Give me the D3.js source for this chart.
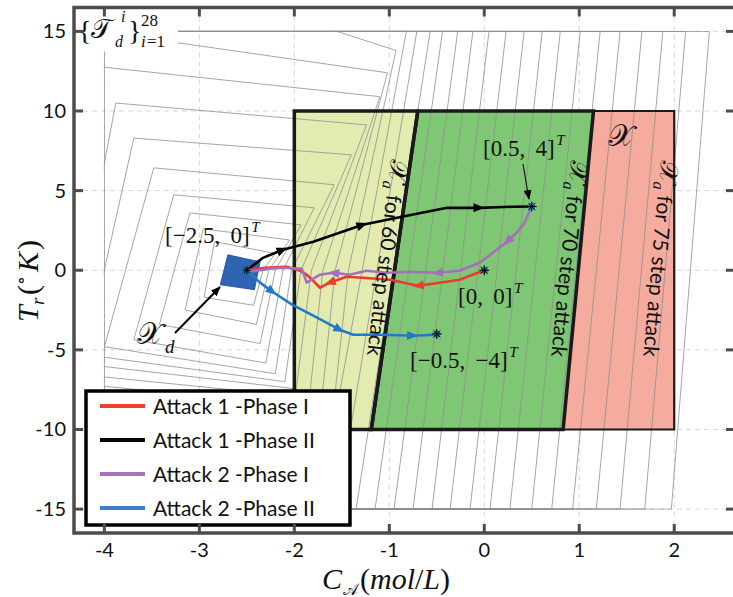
<!DOCTYPE html>
<html><head><meta charset="utf-8">
<script src="https://cdn.jsdelivr.net/npm/d3@7"></script>
<style>body{margin:0;background:#fff} svg{display:block}</style>
</head><body>
<svg id="chart" width="733" height="597"></svg>
<script>
// ---------------- data ----------------
const xTicks = [-4, -3, -2, -1, 0, 1, 2];
const yTicks = [-15, -10, -5, 0, 5, 10, 15];
const xTickLabels = ["-4", "-3", "-2", "-1", "0", "1", "2"];
const yTickLabels = ["-15", "-10", "-5", "0", "5", "10", "15"];

const setX    = [[-2, 10], [2, 10], [2, -10], [-2, -10]];
const setXa60 = [[-2, 10], [-0.70, 10], [-1.19, -10], [-2, -10]];
const setXa70 = [[-0.70, 10], [1.15, 10], [0.83, -10], [-1.19, -10]];
const setXd   = [[-2.70, 0.97], [-2.36, 0.53], [-2.42, -1.22], [-2.78, -0.91]];

// nested target sets T_d^i, i = 1..28 (polygon vertices, clipped to the state box)
const targetSets = [
  [[-2.84, 1.8], [-2.20, 1.05], [-2.33, 0], [-2.43, -2.2], [-2.95, -1.7]],
  [[-2.96, 2.6], [-2.05, 1.9], [-2.27, 0], [-2.40, -3.4], [-3.15, -2.5]],
  [[-3.10, 3.6], [-1.93, 2.85], [-2.20, 0], [-2.36, -4.6], [-3.42, -3.4]],
  [[-3.27, 4.74], [-1.79, 3.92], [-2.12, 0], [-2.30, -5.83], [-3.69, -4.36]],
  [[-3.48, 6.43], [-1.58, 5.37], [-2.03, 0], [-2.20, -6.5], [-4.0, -4.8]],
  [[-3.69, 8.3], [-1.40, 7.25], [-1.93, 0], [-2.10, -7.0], [-4.2, -5.3]],
  [[-3.88, 10.5], [-1.24, 9.13], [-1.82, 0], [-1.98, -7.45], [-4.4, -5.77]],
  [[-4.08, 12.8], [-1.10, 10.9], [-1.70, 0], [-1.84, -8.0], [-4.5, -6.4]],
  [[-4.3, 15.2], [-1.02, 12.4], [-1.57, 0], [-1.72, -8.6], [-4.5, -7.0]],
  [[-4.3, 16.8], [-1.60, 15.1], [-0.93, 13.8], [-1.43, 0], [-1.60, -9.3], [-4.5, -7.6]],
  [[-4.3, 15], [-0.82, 15], [-1.75, -15], [-4.3, -15]],
  [[-4.3, 15], [-0.71, 15], [-1.55, -15], [-4.3, -15]],
  [[-4.3, 15], [-0.57, 15], [-1.35, -15], [-4.3, -15]],
  [[-4.3, 15], [-0.44, 15], [-1.15, -15], [-4.3, -15]],
  [[-4.3, 15], [-0.28, 15], [-0.95, -15], [-4.3, -15]],
  [[-4.3, 15], [-0.12, 15], [-0.75, -15], [-4.3, -15]],
  [[-4.3, 15], [0.05, 15], [-0.55, -15], [-4.3, -15]],
  [[-4.3, 15], [0.23, 15], [-0.36, -15], [-4.3, -15]],
  [[-4.3, 15], [0.42, 15], [-0.15, -15], [-4.3, -15]],
  [[-4.3, 15], [0.61, 15], [0.06, -15], [-4.3, -15]],
  [[-4.3, 15], [0.80, 15], [0.27, -15], [-4.3, -15]],
  [[-4.3, 15], [1.01, 15], [0.50, -15], [-4.3, -15]],
  [[-4.3, 15], [1.22, 15], [0.71, -15], [-4.3, -15]],
  [[-4.3, 15], [1.43, 15], [0.93, -15], [-4.3, -15]],
  [[-4.3, 15], [1.66, 15], [1.18, -15], [-4.3, -15]],
  [[-4.3, 15], [1.88, 15], [1.43, -15], [-4.3, -15]],
  [[-4.3, 15], [2.12, 15], [1.69, -15], [-4.3, -15]],
  [[-4, 15], [2.37, 15], [1.97, -15], [-4, -15]]
];

const attack1Phase1 = [[0, 0], [-0.26, -0.60], [-0.47, -0.78], [-0.70, -0.97], [-0.99, -0.60], [-1.28, -0.47],
  [-1.45, -0.41], [-1.63, -0.78], [-1.73, -1.10], [-1.81, -0.60], [-1.87, -0.28], [-1.94, -0.03],
  [-2.08, 0.22], [-2.31, 0.16], [-2.5, 0]];
const attack1Phase2 = [[-2.5, 0], [-2.33, 0.78], [-2.12, 1.29], [-1.80, 1.79], [-1.28, 2.86], [-0.71, 3.55],
  [-0.39, 3.92], [-0.05, 3.92], [0.30, 3.99], [0.5, 4]];
const attack2Phase1 = [[0.5, 4], [0.43, 3.04], [0.35, 2.42], [0.24, 1.79], [0.09, 1.10], [-0.05, 0.47],
  [-0.26, -0.03], [-0.50, -0.16], [-0.78, -0.09], [-1.03, -0.16], [-1.24, -0.03], [-1.42, -0.28],
  [-1.59, -0.16], [-1.73, -0.28], [-1.87, -0.78], [-1.92, 0.09], [-2.12, 0.16], [-2.26, 0.09], [-2.47, -0.09], [-2.5, 0]];
const attack2Phase2 = [[-2.5, 0], [-2.36, -0.78], [-2.23, -1.35], [-2.02, -2.17], [-1.76, -2.98], [-1.52, -3.74],
  [-1.38, -4.05], [-1.07, -4.05], [-0.75, -4.11], [-0.52, -4.05], [-0.5, -4]];

const arrows1P1 = [3, 7];
const arrows1P2 = [2, 4, 7];
const arrows2P1 = [3, 7, 12];
const arrows2P2 = [2, 5, 8];

const seriesNames = ["Attack 1 -Phase I", "Attack 1 -Phase II", "Attack 2 -Phase I", "Attack 2 -Phase II"];
const seriesColors = ["#ec3b2b", "#000000", "#a46fbd", "#1f7bc6"];
const legendColors = ["#ee3d31", "#000000", "#a674bf", "#3d7fcb"];
const endPoints = [[0.5, 4], [0, 0], [-0.5, -4]];

// ---------------- drawing ----------------
const svg = d3.select("#chart");
const x = d3.scaleLinear().domain([-4.32, 2.64]).range([74, 735]);
const y = d3.scaleLinear().domain([-16.5, 16.5]).range([533, 7.5]);
const sans = "Lato, 'Open Sans', sans-serif";
const serif = "'Liberation Serif', 'DejaVu Serif', serif";
const line = d3.line().x(d => x(d[0])).y(d => y(d[1]));

// grid
const grid = svg.append("g");
xTicks.forEach(t => grid.append("line").attr("x1", x(t)).attr("x2", x(t)).attr("y1", 7.5).attr("y2", 533)
  .attr("stroke", "#d6d6d6").attr("stroke-width", 1).attr("stroke-dasharray", "5,4"));
yTicks.forEach(t => grid.append("line").attr("x1", 74).attr("x2", 735).attr("y1", y(t)).attr("y2", y(t))
  .attr("stroke", "#d6d6d6").attr("stroke-width", 1).attr("stroke-dasharray", "5,4"));

// fills
const poly = pts => line(pts) + "Z";
svg.append("path").attr("d", poly(setX)).attr("fill", "#f5ab9e");
svg.append("path").attr("d", poly(setXa60)).attr("fill", "#e3ebb0");
svg.append("path").attr("d", poly(setXa70)).attr("fill", "#7fc774");

// target sets
svg.append("clipPath").attr("id", "box").append("rect")
  .attr("x", x(-4) - 0.6).attr("y", y(15) - 0.6).attr("width", x(2.64) - x(-4) + 1.2).attr("height", y(-15) - y(15) + 1.2);
svg.append("g").attr("clip-path", "url(#box)").selectAll("path").data(targetSets).join("path")
  .attr("d", poly).attr("fill", "none").attr("stroke", "#8f8f8f").attr("stroke-width", 0.8).attr("stroke-linejoin", "round");

// set borders
svg.append("path").attr("d", poly(setX)).attr("fill", "none").attr("stroke", "#1a1a1a").attr("stroke-width", 2.2);
svg.append("path").attr("d", poly(setXa60)).attr("fill", "none").attr("stroke", "#1a1a1a").attr("stroke-width", 3.5);
svg.append("path").attr("d", poly(setXa70)).attr("fill", "none").attr("stroke", "#1a1a1a").attr("stroke-width", 3.5);
svg.append("path").attr("d", poly(setXd)).attr("fill", "#2f64b3").attr("stroke", "#1d4a8f").attr("stroke-width", 0.8);

// trajectories
function arrowHead(g, p0, p1, color) {
  const a = Math.atan2(y(p1[1]) - y(p0[1]), x(p1[0]) - x(p0[0])) * 180 / Math.PI;
  g.append("path").attr("d", "M5,0 L-6,-4.5 L-6,4.5 Z").attr("fill", color)
    .attr("transform", `translate(${x(p1[0])},${y(p1[1])}) rotate(${a})`);
}
const trajs = [[attack1Phase1, arrows1P1], [attack1Phase2, arrows1P2], [attack2Phase1, arrows2P1], [attack2Phase2, arrows2P2]];
const tg = svg.append("g");
[1, 0, 2, 3].forEach(i => {
  const [data, arr] = trajs[i];
  tg.append("path").attr("d", line(data)).attr("fill", "none").attr("stroke", seriesColors[i])
    .attr("stroke-width", 2.6).attr("stroke-linejoin", "round");
  arr.forEach(k => arrowHead(tg, data[k - 1], data[k], seriesColors[i]));
});

// end point markers
function star(g, px, py, r) {
  for (let k = 0; k < 4; k++) {
    const a = k * Math.PI / 4;
    g.append("line").attr("x1", px - r * Math.cos(a)).attr("y1", py - r * Math.sin(a))
      .attr("x2", px + r * Math.cos(a)).attr("y2", py + r * Math.sin(a)).attr("stroke", "#000").attr("stroke-width", 1);
  }
}
endPoints.forEach(p => {
  svg.append("circle").attr("cx", x(p[0])).attr("cy", y(p[1])).attr("r", 3.5).attr("fill", "#1f7bc6");
  star(svg, x(p[0]), y(p[1]), 5);
});
star(svg, x(-2.5), y(0), 4);

// annotations
const ann = svg.append("g").attr("font-family", serif).attr("fill", "#111");
function vecLabel(px, py, body, size) {
  const t = ann.append("text").attr("x", px).attr("y", py).attr("font-size", size).text(body);
  const w = t.node().getComputedTextLength();
  ann.append("text").attr("x", px + w + 1.5).attr("y", py - size * 0.5).attr("font-size", size * 0.66)
    .attr("font-style", "italic").text("T");
}
vecLabel(483, 156, "[0.5,\u2009 4]", 23);
vecLabel(165, 243, "[\u22122.5,\u2009 0]", 23);
vecLabel(458, 304, "[0,\u2009 0]", 23);
vecLabel(410, 368, "[\u22120.5,\u2009 \u22124]", 23);

// arrows for annotations
svg.append("defs").append("marker").attr("id", "ah").attr("viewBox", "0 0 10 10").attr("refX", 9).attr("refY", 5)
  .attr("markerWidth", 10).attr("markerHeight", 10).attr("markerUnits", "userSpaceOnUse").attr("orient", "auto")
  .append("path").attr("d", "M0,1 L10,5 L0,9 Z").attr("fill", "#000");
svg.append("line").attr("x1", 523).attr("y1", 164).attr("x2", 529).attr("y2", 199).attr("stroke", "#000").attr("stroke-width", 1).attr("marker-end", "url(#ah)");
svg.append("line").attr("x1", 175).attr("y1", 333).attr("x2", 220).attr("y2", 287).attr("stroke", "#000").attr("stroke-width", 2).attr("marker-end", "url(#ah)");

ann.append("text").attr("x", 137).attr("y", 344).attr("font-size", 30).text("\u{1D4B3}");
ann.append("text").attr("x", 165).attr("y", 353).attr("font-size", 19).attr("font-style", "italic").text("d");
ann.append("text").attr("x", 608).attr("y", 146).attr("font-size", 30).text("\u{1D4B3}");

// rotated region labels
function regionLabel(cx, cy, ang, num) {
  const t = svg.append("text").attr("transform", `translate(${cx},${cy}) rotate(${ang})`)
    .attr("text-anchor", "middle").attr("font-size", 21).attr("font-family", sans).attr("fill", "#111");
  t.append("tspan").attr("font-family", serif).attr("font-size", 26).text("\u{1D4B3}");
  t.append("tspan").attr("font-family", serif).attr("font-style", "italic").attr("font-size", 16).attr("dy", 5).text("a");
  t.append("tspan").attr("dy", -5).text(` for ${num} step attack`);
}
regionLabel(379, 257, 97, 60);
regionLabel(561, 258, 95.7, 70);
regionLabel(652, 258, 95, 75);

// title box
svg.append("rect").attr("x", 74).attr("y", 7.5).attr("width", 104).attr("height", 44).attr("fill", "#fff");
const tt = svg.append("g").attr("font-family", serif).attr("fill", "#111");
tt.append("text").attr("x", 78).attr("y", 40).attr("font-size", 28).text("{");
tt.append("text").attr("x", 91).attr("y", 38).attr("font-size", 27).text("\u{1D4AF}");
tt.append("text").attr("x", 115).attr("y", 47).attr("font-size", 16).attr("font-style", "italic").text("d");
tt.append("text").attr("x", 121).attr("y", 22).attr("font-size", 16).attr("font-style", "italic").text("i");
tt.append("text").attr("x", 128).attr("y", 40).attr("font-size", 28).text("}");
tt.append("text").attr("x", 141).attr("y", 26).attr("font-size", 17).text("28");
tt.append("text").attr("x", 141).attr("y", 47).attr("font-size", 17).attr("font-style", "italic").text("i");
tt.append("text").attr("x", 147).attr("y", 47).attr("font-size", 17).text("=1");

// legend
const lg = svg.append("g");
lg.append("rect").attr("x", 86).attr("y", 391).attr("width", 264).attr("height", 134).attr("fill", "#fff")
  .attr("stroke", "#000").attr("stroke-width", 3.5);
seriesNames.forEach((n, i) => {
  const ly = 406 + i * 34;
  lg.append("line").attr("x1", 100).attr("x2", 145).attr("y1", ly).attr("y2", ly)
    .attr("stroke", legendColors[i]).attr("stroke-width", 4);
  lg.append("text").attr("x", 153).attr("y", ly + 7.5).attr("font-family", sans).attr("font-size", 21).attr("fill", "#111").text(n);
});

// axes frame + ticks
const fr = svg.append("g").attr("stroke", "#4d4d4d");
fr.append("rect").attr("x", 74).attr("y", 7.5).attr("width", 661).attr("height", 525.5).attr("fill", "none").attr("stroke-width", 3.5);
xTicks.forEach(t => {
  fr.append("line").attr("x1", x(t)).attr("x2", x(t)).attr("y1", 533).attr("y2", 524).attr("stroke-width", 3);
  fr.append("line").attr("x1", x(t)).attr("x2", x(t)).attr("y1", 7.5).attr("y2", 16.5).attr("stroke-width", 3);
});
yTicks.forEach(t => {
  fr.append("line").attr("x1", 74).attr("x2", 83).attr("y1", y(t)).attr("y2", y(t)).attr("stroke-width", 3);
  fr.append("line").attr("x1", 735).attr("x2", 726).attr("y1", y(t)).attr("y2", y(t)).attr("stroke-width", 3);
});
const tl = svg.append("g").attr("font-family", sans).attr("font-size", 20).attr("fill", "#111");
xTicks.forEach((t, i) => tl.append("text").attr("x", x(t)).attr("y", 557).attr("text-anchor", "middle").text(xTickLabels[i]));
yTicks.forEach((t, i) => tl.append("text").attr("x", 66).attr("y", y(t) + 7).attr("text-anchor", "end").text(yTickLabels[i]));

// axis titles
const at = svg.append("g").attr("font-family", serif).attr("fill", "#111");
at.append("text").attr("x", 322).attr("y", 589).attr("font-size", 30).attr("font-style", "italic").text("C");
const sa = at.append("text").attr("x", 343).attr("y", 595).attr("font-size", 16).text("\u{1D49C}");
const saw = sa.node().getComputedTextLength();
const xr = at.append("text").attr("x", 343 + saw + 2).attr("y", 589).attr("font-size", 30);
xr.append("tspan").text("(");
xr.append("tspan").attr("font-style", "italic").text("mol");
xr.append("tspan").text("/");
xr.append("tspan").attr("font-style", "italic").text("L");
xr.append("tspan").text(")");

const yg = at.append("g").attr("transform", "translate(38,322) rotate(-90)");
yg.append("text").attr("x", 0).attr("y", 0).attr("font-size", 30).attr("font-style", "italic").text("T");
yg.append("text").attr("x", 17).attr("y", 6).attr("font-size", 19).attr("font-style", "italic").text("r");
yg.append("text").attr("x", 27).attr("y", 0).attr("font-size", 30).text("(");
yg.append("text").attr("x", 37).attr("y", -11).attr("font-size", 18).text("\u2218");
yg.append("text").attr("x", 50).attr("y", 0).attr("font-size", 30).attr("font-style", "italic").text("K");
yg.append("text").attr("x", 72).attr("y", 0).attr("font-size", 30).text(")");
</script>
</body></html>
